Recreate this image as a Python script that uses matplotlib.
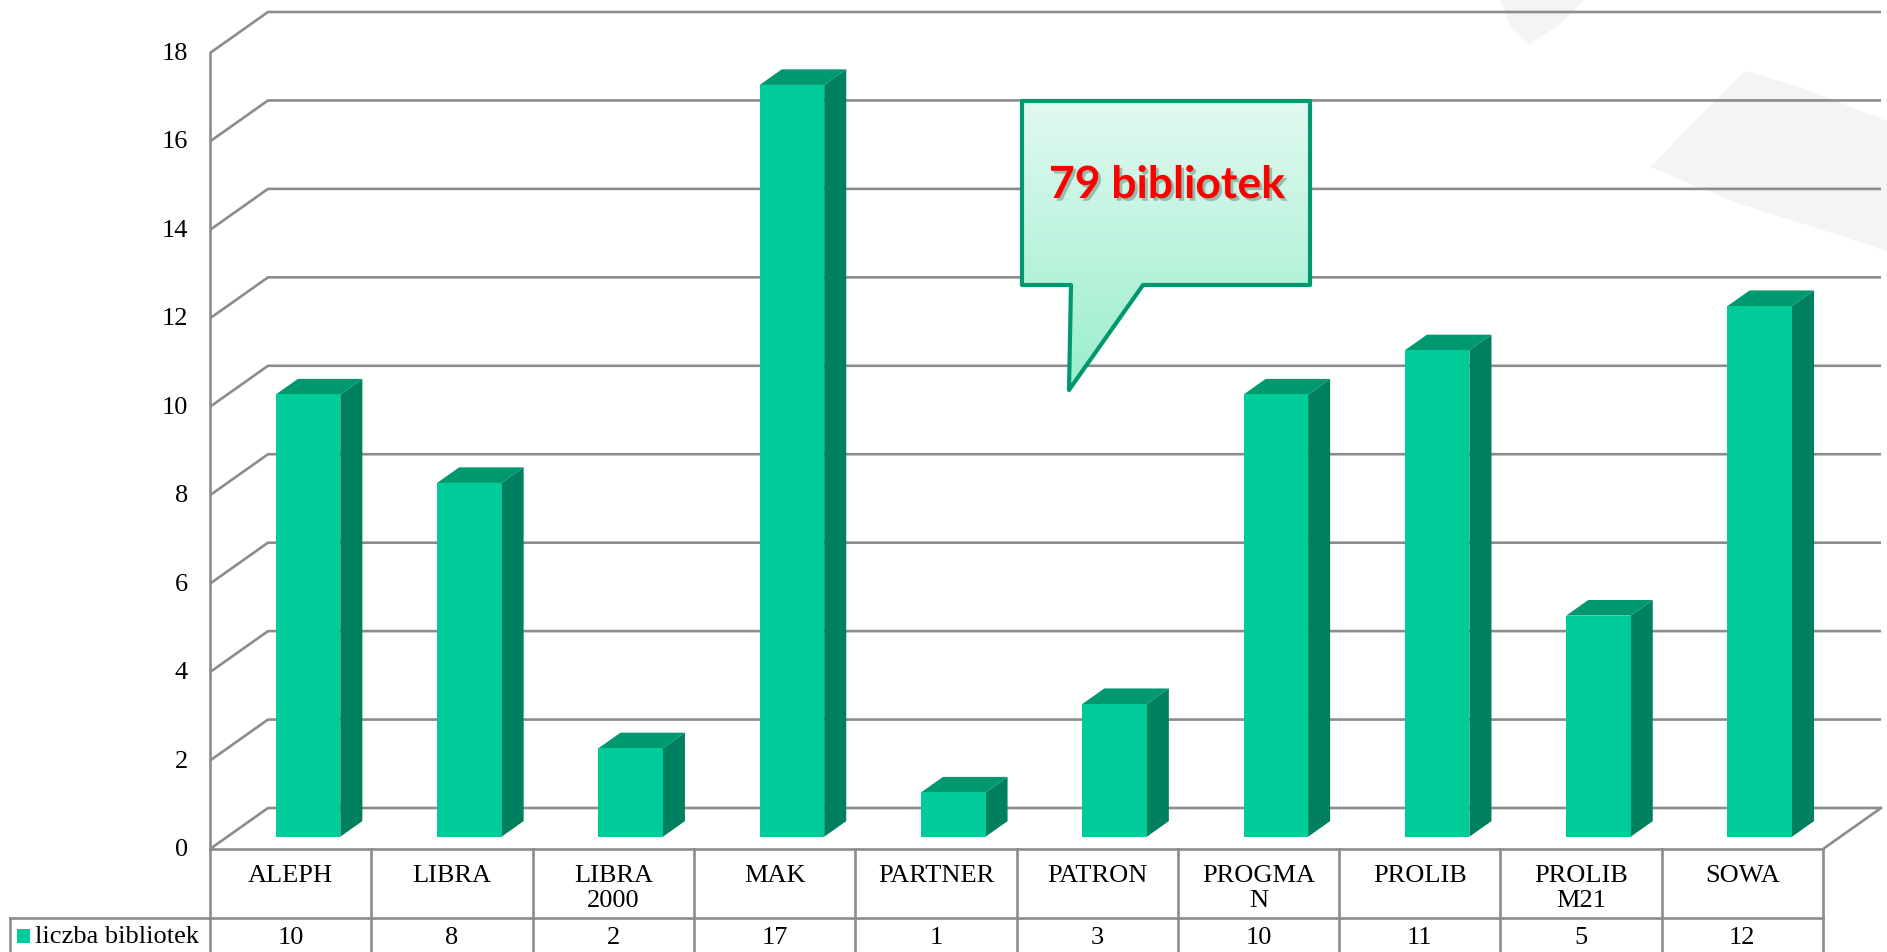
import numpy as np
import matplotlib

matplotlib.use("Agg")
import matplotlib.pyplot as plt
import matplotlib.transforms as mtransforms
from matplotlib.patches import Polygon, Rectangle
import matplotlib.patheffects as pe

categories = ["ALEPH", "LIBRA", "LIBRA\n2000", "MAK", "PARTNER", "PATRON",
              "PROGMA\nN", "PROLIB", "PROLIB\nM21", "SOWA"]
values = [10, 8, 2, 17, 1, 3, 10, 11, 5, 12]
series_name = "liczba bibliotek"
y_ticks = list(range(0, 19, 2))
callout_text = "79 bibliotek"

W, H = 1887, 953
FRONT = "#00CC99"
TOP = "#00996F"
SIDE = "#00805E"
GRID = "#8C8C8C"
SERIF = "Liberation Serif"

fig = plt.figure(figsize=(W / 100, H / 100), dpi=100)
bg = fig.add_axes([0, 0, 1, 1], zorder=0)
bg.set_xlim(0, W)
bg.set_ylim(H, 0)
bg.axis("off")

# faint decorative shapes in the background (right side)
bg.add_patch(Polygon([(1500, 0), (1585, 0), (1560, 25), (1528, 46), (1512, 30)],
                     closed=True, fc="#F4F4F4", ec="none"))
bg.add_patch(Polygon([(1745, 72), (1800, 88), (1887, 122), (1887, 252), (1820, 230),
                      (1740, 205), (1650, 168)],
                     closed=True, fc="#F4F4F4", ec="none"))

# front plane of the 3D chart: x = category, y = value
left, right, top, bottom = 210, 1823, 54, 850
ax = fig.add_axes([left / W, (H - bottom) / H, (right - left) / W, (bottom - top) / H], zorder=1)
ax.set_xlim(-0.5, len(categories) - 0.5)
ax.set_ylim(0, 18)
ax.axis("off")
ax.patch.set_alpha(0)

px_cat = (right - left) / len(categories)
px_val = (bottom - top) / 18
DX = 58 / px_cat      # depth offset in data units
DY = 41 / px_val
x0, x1 = -0.5, len(categories) - 0.5

lw = 1.9
for v in y_ticks:
    ax.plot([x0, x0 + DX, x1 + DX], [v, v + DY, v + DY], color=GRID, lw=lw,
            clip_on=False, solid_capstyle="butt")
    ax.annotate(str(v), (x0, v), xytext=(-22, 0), textcoords="offset pixels",
                ha="right", va="center", fontsize=19, family=SERIF)
ax.plot([x0, x0], [0, 18], color=GRID, lw=lw, clip_on=False)
ax.plot([x1, x1 + DX], [0, DY], color=GRID, lw=lw, clip_on=False)

# 3D bars
d0, d1, half = 0.3, 0.68, 0.2
for i, v in enumerate(values):
    fl, fr = i - half + d0 * DX, i + half + d0 * DX
    bl, br = i - half + d1 * DX, i + half + d1 * DX
    yb0, yb1 = d0 * DY, d1 * DY
    ax.add_patch(Polygon([(fr, yb0), (br, yb1), (br, v + yb1), (fr, v + yb0)],
                         closed=True, fc=SIDE, ec="none", zorder=3))
    ax.add_patch(Polygon([(fl, v + yb0), (fr, v + yb0), (br, v + yb1), (bl, v + yb1)],
                         closed=True, fc=TOP, ec="none", zorder=3))
    ax.add_patch(Rectangle((fl, yb0), fr - fl, v, fc=FRONT, ec="none", zorder=4))

# data table under the chart
tr = mtransforms.blended_transform_factory(ax.transData, bg.transData)
row1, row2 = 919, H
ax.plot([x0, x1], [bottom, bottom], color=GRID, lw=lw, transform=tr, clip_on=False)
for k in range(len(categories) + 1):
    ax.plot([x0 + k, x0 + k], [bottom, row2], color=GRID, lw=lw, transform=tr, clip_on=False)
ax.plot([x0, x1], [row1, row1], color=GRID, lw=lw, transform=tr, clip_on=False)
bg.plot([10, left], [row1, row1], color=GRID, lw=lw)
bg.plot([10, 10], [row1, row2], color=GRID, lw=lw)
for i, (c, v) in enumerate(zip(categories, values)):
    ax.text(i, 865, c, transform=tr, ha="center", va="top", fontsize=19,
            family=SERIF, linespacing=1.17, clip_on=False)
    ax.text(i, 938, str(v), transform=tr, ha="center", va="center", fontsize=19,
            family=SERIF, clip_on=False)
bg.add_patch(Rectangle((17, 930), 13, 14, fc=FRONT, ec="none"))
bg.text(35, 937, series_name, ha="left", va="center", fontsize=19, family=SERIF)

# callout bubble
ov = fig.add_axes([0, 0, 1, 1], zorder=5)
ov.set_xlim(0, W)
ov.set_ylim(H, 0)
ov.axis("off")
ov.patch.set_alpha(0)
bubble = [(1022, 102), (1310, 102), (1310, 286), (1143, 286), (1069, 391),
          (1071, 286), (1022, 286)]
poly = Polygon(bubble, closed=True, fc="none", ec="#00996F", lw=3.0, joinstyle="round")
grad = np.linspace(0, 1, 256).reshape(-1, 1)
cmap = matplotlib.colors.LinearSegmentedColormap.from_list("bub", ["#E2F9F1", "#99EECC"])
img = ov.imshow(grad, extent=(1022, 1310, 391, 102), cmap=cmap, aspect="auto",
                interpolation="bilinear", zorder=1)
ov.add_patch(poly)
img.set_clip_path(Polygon(bubble, closed=True, transform=ov.transData))
ov.set_xlim(0, W)
ov.set_ylim(H, 0)
ov.text(1167, 186, callout_text, ha="center", va="center", color="#FF0000",
        fontsize=32, fontweight="bold", family="Lato", zorder=3,
        path_effects=[pe.withSimplePatchShadow(offset=(2, -2), shadow_rgbFace="#557766", alpha=0.45)])

fig.savefig("out.png", dpi=100)
